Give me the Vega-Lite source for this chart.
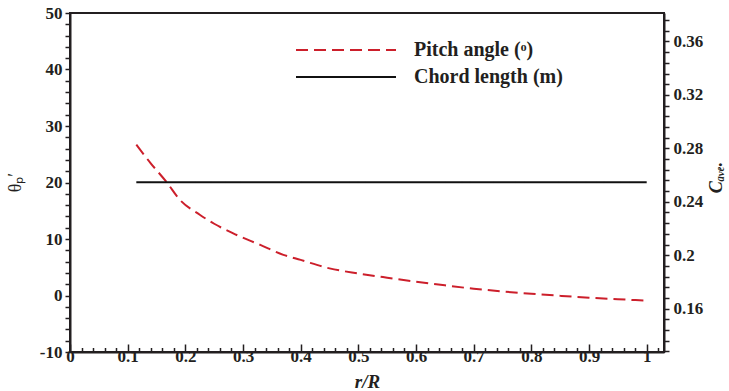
{
  "$schema": "https://vega.github.io/schema/vega-lite/v6.json",
  "width": 594,
  "height": 339,
  "autosize": "none",
  "padding": {"left": 70, "top": 13, "right": 65, "bottom": 39},
  "background": "white",
  "config": {
    "view": {"stroke": "#231f20", "strokeWidth": 2},
    "axis": {
      "domainColor": "#231f20", "domainWidth": 2,
      "tickColor": "#231f20", "tickWidth": 1.5, "ticks": true,
      "labelFont": "Liberation Serif", "labelFontSize": 17, "labelFontWeight": "bold", "labelColor": "#231f20",
      "labelFlush": false, "labelOverlap": false,
      "grid": false,
      "titleFont": "Liberation Serif", "titleColor": "#231f20"
    }
  },
  "datasets": {
    "pitch": [
      {"r": 0.115, "theta": 26.7, "series": "Pitch angle (ᵒ)"},
      {"r": 0.14, "theta": 23.4, "series": "Pitch angle (ᵒ)"},
      {"r": 0.1676, "theta": 20.05, "series": "Pitch angle (ᵒ)"},
      {"r": 0.19, "theta": 17.0, "series": "Pitch angle (ᵒ)"},
      {"r": 0.225, "theta": 14.3, "series": "Pitch angle (ᵒ)"},
      {"r": 0.25, "theta": 12.7, "series": "Pitch angle (ᵒ)"},
      {"r": 0.283, "theta": 11.0, "series": "Pitch angle (ᵒ)"},
      {"r": 0.33, "theta": 8.95, "series": "Pitch angle (ᵒ)"},
      {"r": 0.37, "theta": 7.2, "series": "Pitch angle (ᵒ)"},
      {"r": 0.4, "theta": 6.3, "series": "Pitch angle (ᵒ)"},
      {"r": 0.45, "theta": 4.8, "series": "Pitch angle (ᵒ)"},
      {"r": 0.5, "theta": 3.9, "series": "Pitch angle (ᵒ)"},
      {"r": 0.55, "theta": 3.15, "series": "Pitch angle (ᵒ)"},
      {"r": 0.6, "theta": 2.45, "series": "Pitch angle (ᵒ)"},
      {"r": 0.65, "theta": 1.8, "series": "Pitch angle (ᵒ)"},
      {"r": 0.7, "theta": 1.2, "series": "Pitch angle (ᵒ)"},
      {"r": 0.75, "theta": 0.72, "series": "Pitch angle (ᵒ)"},
      {"r": 0.8, "theta": 0.3, "series": "Pitch angle (ᵒ)"},
      {"r": 0.85, "theta": -0.05, "series": "Pitch angle (ᵒ)"},
      {"r": 0.9, "theta": -0.38, "series": "Pitch angle (ᵒ)"},
      {"r": 0.95, "theta": -0.65, "series": "Pitch angle (ᵒ)"},
      {"r": 1.0, "theta": -0.92, "series": "Pitch angle (ᵒ)"}
    ],
    "chord": [
      {"r": 0.115, "c": 0.2547, "series": "Chord length (m)"},
      {"r": 1.0, "c": 0.2547, "series": "Chord length (m)"}
    ]
  },
  "layer": [
    {
      "data": {"name": "pitch"},
      "mark": {"type": "line", "strokeWidth": 2, "interpolate": "monotone"},
      "encoding": {
        "x": {
          "field": "r", "type": "quantitative",
          "scale": {"domain": [0, 1.03], "nice": false, "zero": false},
          "axis": {
            "values": [0,0.02,0.04,0.06,0.08,0.1,0.12,0.14,0.16,0.18,0.2,0.22,0.24,0.26,0.28,0.3,0.32,0.34,0.36,0.38,0.4,0.42,0.44,0.46,0.48,0.5,0.52,0.54,0.56,0.58,0.6,0.62,0.64,0.66,0.68,0.7,0.72,0.74,0.76,0.78,0.8,0.82,0.84,0.86,0.88,0.9,0.92,0.94,0.96,0.98,1,1.02],
            "tickSize": -8,
            "tickDash": {"condition": {"test": "abs(datum.value*10-round(datum.value*10))<0.001", "value": [1, 0]}, "value": [4.5, 20]},
            "labelExpr": "abs(datum.value*10-round(datum.value*10))<0.001 ? ''+round(datum.value*10)/10 : ''",
            "labelPadding": 4,
            "title": "r/R", "titleFontStyle": "italic", "titleFontWeight": "bold", "titleFontSize": 19,
            "titleY": 29, "titleBaseline": "middle"
          }
        },
        "y": {
          "field": "theta", "type": "quantitative",
          "scale": {"domain": [-10, 50], "nice": false, "zero": false},
          "axis": {
            "orient": "left",
            "tickSize": 5, "tickColor": "#231f20", "tickWidth": 1.5,
            "values": [-10,-8,-6,-4,-2,0,2,4,6,8,10,12,14,16,18,20,22,24,26,28,30,32,34,36,38,40,42,44,46,48,50],
            "labelExpr": "datum.value % 10 === 0 ? ''+datum.value : ''",
            "labelPadding": 3,
            "title": "θₚ′", "titleFontSize": 18, "titleFontWeight": "normal",
            "titleAngle": 270, "titleX": -55, "titleY": 169, "titleBaseline": "middle", "titleAlign": "center"
          }
        },
        "color": {
          "field": "series", "type": "nominal",
          "scale": {"domain": ["Pitch angle (ᵒ)", "Chord length (m)"], "range": ["#cc1f2b", "#111111"]},
          "legend": {
            "orient": "none", "legendX": 265, "legendY": 26, "title": null,
            "symbolType": "M-5,0H5", "symbolSize": 400, "symbolStrokeWidth": 2,
            "labelFont": "Liberation Serif", "labelFontSize": 20, "labelFontWeight": "bold", "labelColor": "#231f20",
            "labelOffset": 57, "rowPadding": 6
          }
        },
        "strokeDash": {
          "field": "series", "type": "nominal",
          "scale": {"domain": ["Pitch angle (ᵒ)", "Chord length (m)"], "range": [[12, 6], [1, 0]]},
          "legend": {
            "orient": "none", "legendX": 265, "legendY": 26, "title": null,
            "symbolType": "M-5,0H5", "symbolSize": 400, "symbolStrokeWidth": 2,
            "labelFont": "Liberation Serif", "labelFontSize": 20, "labelFontWeight": "bold", "labelColor": "#231f20",
            "labelOffset": 57, "rowPadding": 6
          }
        }
      }
    },
    {
      "data": {"name": "chord"},
      "mark": {"type": "line", "strokeWidth": 2},
      "encoding": {
        "x": {
          "field": "r", "type": "quantitative",
          "axis": {
            "values": [0,0.02,0.04,0.06,0.08,0.1,0.12,0.14,0.16,0.18,0.2,0.22,0.24,0.26,0.28,0.3,0.32,0.34,0.36,0.38,0.4,0.42,0.44,0.46,0.48,0.5,0.52,0.54,0.56,0.58,0.6,0.62,0.64,0.66,0.68,0.7,0.72,0.74,0.76,0.78,0.8,0.82,0.84,0.86,0.88,0.9,0.92,0.94,0.96,0.98,1,1.02],
            "tickSize": -8,
            "tickDash": {"condition": {"test": "abs(datum.value*10-round(datum.value*10))<0.001", "value": [1, 0]}, "value": [4.5, 20]},
            "labelExpr": "abs(datum.value*10-round(datum.value*10))<0.001 ? ''+round(datum.value*10)/10 : ''",
            "labelPadding": 4,
            "title": "r/R", "titleFontStyle": "italic", "titleFontWeight": "bold", "titleFontSize": 19,
            "titleY": 29, "titleBaseline": "middle"
          }
        },
        "y": {
          "field": "c", "type": "quantitative",
          "scale": {"domain": [0.1276, 0.3813], "nice": false, "zero": false},
          "axis": {
            "orient": "right",
            "tickSize": 5, "tickColor": "#231f20", "tickWidth": 1.5,
            "values": [0.128,0.136,0.144,0.152,0.16,0.168,0.176,0.184,0.192,0.2,0.208,0.216,0.224,0.232,0.24,0.248,0.256,0.264,0.272,0.28,0.288,0.296,0.304,0.312,0.32,0.328,0.336,0.344,0.352,0.36,0.368,0.376],
            "labelExpr": "abs(datum.value*25-round(datum.value*25))<0.001 ? ''+round(datum.value*25)/25 : ''",
            "labelPadding": 4,
            "title": "Cₐᵥₑ.", "titleFontSize": 18, "titleFontWeight": "bold", "titleFontStyle": "italic",
            "titleAngle": 270, "titleX": 52, "titleY": 164, "titleBaseline": "middle", "titleAlign": "center"
          }
        },
        "color": {"field": "series", "type": "nominal"},
        "strokeDash": {"field": "series", "type": "nominal"}
      }
    }
  ],
  "resolve": {"scale": {"y": "independent"}}
}
